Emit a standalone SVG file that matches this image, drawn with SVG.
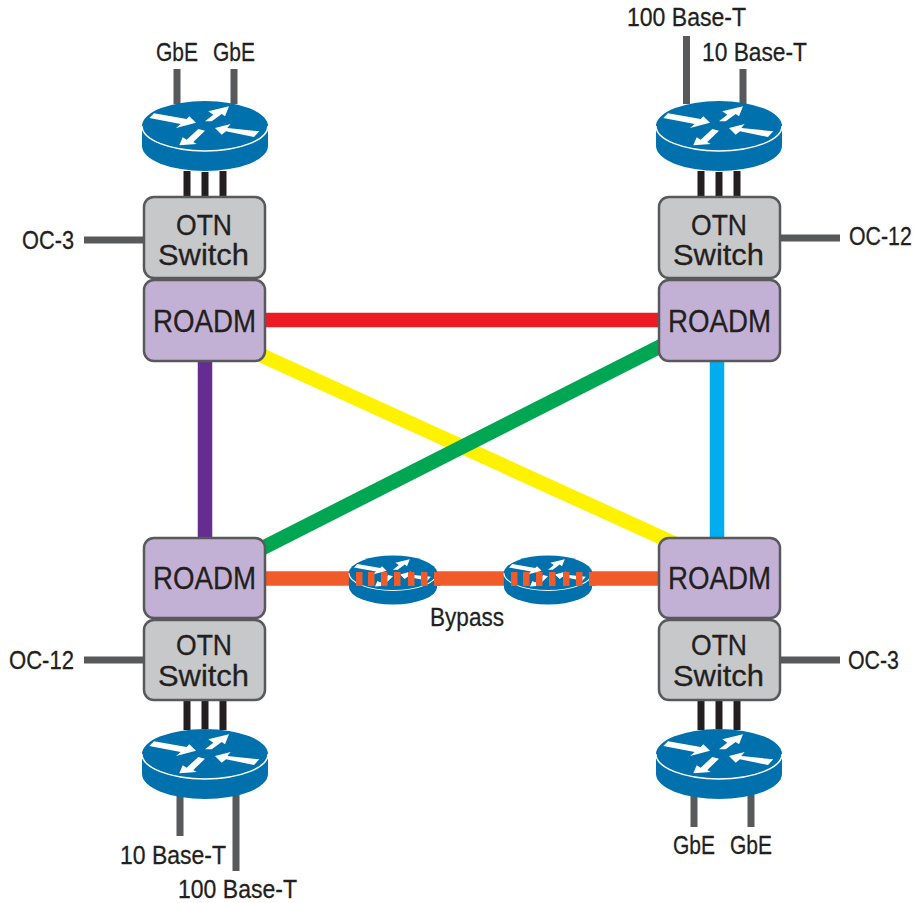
<svg xmlns="http://www.w3.org/2000/svg" xmlns:xlink="http://www.w3.org/1999/xlink" width="915" height="903" viewBox="0 0 915 903">
<style>
text{font-family:"Liberation Sans",Arial,sans-serif;fill:#231f20;stroke:#231f20;stroke-width:.3}
.l{font-size:26px}
.s{font-size:25px}
.b{font-size:30px}
.r{font-size:32px}
.box{stroke:#58595b;stroke-width:2.5}
.otn{fill:#c7c8ca}
.roadm{fill:#c3b1d5}
.g{stroke:#58595b;stroke-width:7;fill:none}
.k{stroke:#231f20;stroke-width:7;fill:none}
.c{fill:none;stroke-width:14.5}
.tick{fill:#f15a29}
</style>
<defs>
<g id="router">
<path d="M-63,0V20A63,25 0 0 0 63,20V0Z" fill="#0071ad"/>
<ellipse cx="0" cy="0" rx="63" ry="25" fill="#0071ad"/>
<path d="M-63,0A63,25 0 0 0 63,0" fill="none" stroke="#fff" stroke-width="1.5"/>
<g fill="#fff">
<polygon points="-55.7,-8 -51,-12.7 -18.3,-7 -15.700,-9.7 -9,-3.3 -29,2 -24.3,-2"/>
<polygon points="24,-19.7 3.3,-14.7 8.3,-11.3 0,-4.7 6.7,-4.7 16.7,-12 20,-9.7"/>
<polygon points="10,2 25.700,-2 22.3,2 54.3,5.3 49,11 21,5.3 16.7,8.7"/>
<polygon points="-25.7,19.3 -22.3,11.3 -18.3,13.7 -6.7,3 0,4.7 -11.7,16 -8.3,18"/>
</g>
</g>
<g id="ticks">
<rect class="tick" x="-37" y="-7" width="6.5" height="14"/>
<rect class="tick" x="-25" y="-7" width="6.5" height="14"/>
<rect class="tick" x="-12" y="-7" width="6.5" height="14"/>
<rect class="tick" x="1" y="-7" width="6.500" height="14"/>
<rect class="tick" x="15" y="-7" width="6.5" height="14"/>
<rect class="tick" x="28" y="-7" width="6.5" height="14"/>
<rect class="tick" x="41" y="-7" width="6.5" height="14"/>
</g>
</defs>
<g id="connectors">
<path class="c" stroke="#ed1c24" d="M255,320H670"/>
<path class="c" stroke="#fff200" d="M240,345.700L690,550.500"/>
<path class="c" stroke="#00a651" d="M680,336.400L240,559.500"/>
<path class="c" stroke="#662d91" d="M205,355V545"/>
<path class="c" stroke="#00aeef" d="M717,355V545"/>
<path class="c" stroke="#f15a29" d="M255,578.500H670"/>
<path class="g" d="M177,69V104M234,69V104M686.500,36V104M743,69V104M180,795V836M236,795V871M694,795V827M751,795V827M84,240H144M780,238H840M84,660H144M780,660H840"/>
<path class="k" d="M187,171V197M205,172V197M223,171V197M701,171V197M719,172V197M737,171V197M187,700V730M205,700V729M223,700V730M701,700V730M719,700V729M737,700V730"/>
</g>
<g id="router-tl"><use xlink:href="#router" href="#router" x="205" y="126"/></g>
<g id="router-tr"><use xlink:href="#router" href="#router" x="719" y="126"/></g>
<g id="router-bl"><use xlink:href="#router" href="#router" x="205" y="754"/></g>
<g id="router-br"><use xlink:href="#router" href="#router" x="719" y="754"/></g>
<g id="bypass-1"><g transform="translate(393,573) scale(.7)"><use xlink:href="#router" href="#router"/></g><use xlink:href="#ticks" href="#ticks" x="393" y="579"/></g>
<g id="bypass-2"><g transform="translate(548,573) scale(.7)"><use xlink:href="#router" href="#router"/></g><use xlink:href="#ticks" href="#ticks" x="548" y="579"/></g>
<g id="otn-tl"><rect class="box otn" x="144" y="197" width="121" height="81" rx="10"/><text class="b" x="176" y="235" textLength="56" lengthAdjust="spacingAndGlyphs">OTN</text><text class="b" x="158" y="265" textLength="91" lengthAdjust="spacingAndGlyphs">Switch</text></g>
<g id="roadm-tl"><rect class="box roadm" x="144" y="280" width="121" height="81" rx="10"/><text class="r" x="153" y="332" textLength="103" lengthAdjust="spacingAndGlyphs">ROADM</text></g>
<g id="otn-tr"><rect class="box otn" x="659" y="197" width="121" height="81" rx="10"/><text class="b" x="691" y="235" textLength="56" lengthAdjust="spacingAndGlyphs">OTN</text><text class="b" x="673" y="265" textLength="91" lengthAdjust="spacingAndGlyphs">Switch</text></g>
<g id="roadm-tr"><rect class="box roadm" x="659" y="280" width="121" height="81" rx="10"/><text class="r" x="668" y="332" textLength="103" lengthAdjust="spacingAndGlyphs">ROADM</text></g>
<g id="roadm-bl"><rect class="box roadm" x="144" y="538" width="121" height="80" rx="10"/><text class="r" x="153" y="589" textLength="103" lengthAdjust="spacingAndGlyphs">ROADM</text></g>
<g id="otn-bl"><rect class="box otn" x="144" y="620" width="121" height="80" rx="10"/><text class="b" x="176" y="655" textLength="56" lengthAdjust="spacingAndGlyphs">OTN</text><text class="b" x="158" y="686" textLength="91" lengthAdjust="spacingAndGlyphs">Switch</text></g>
<g id="roadm-br"><rect class="box roadm" x="659" y="538" width="121" height="80" rx="10"/><text class="r" x="668" y="589" textLength="103" lengthAdjust="spacingAndGlyphs">ROADM</text></g>
<g id="otn-br"><rect class="box otn" x="659" y="620" width="121" height="80" rx="10"/><text class="b" x="691" y="655" textLength="56" lengthAdjust="spacingAndGlyphs">OTN</text><text class="b" x="673" y="686" textLength="91" lengthAdjust="spacingAndGlyphs">Switch</text></g>
<g id="labels">
<text class="l" x="156" y="61" textLength="42" lengthAdjust="spacingAndGlyphs">GbE</text>
<text class="l" x="213" y="61" textLength="42" lengthAdjust="spacingAndGlyphs">GbE</text>
<text class="l" x="627" y="26" textLength="119" lengthAdjust="spacingAndGlyphs">100 Base-T</text>
<text class="l" x="702" y="61" textLength="105" lengthAdjust="spacingAndGlyphs">10 Base-T</text>
<text class="l" x="22" y="249" textLength="52" lengthAdjust="spacingAndGlyphs">OC-3</text>
<text class="l" transform="translate(849,245) scale(.82,1)">OC-12</text>
<text class="l" x="9" y="669" textLength="65" lengthAdjust="spacingAndGlyphs">OC-12</text>
<text class="l" x="848" y="669" textLength="51" lengthAdjust="spacingAndGlyphs">OC-3</text>
<text class="l" x="430" y="626" textLength="74" lengthAdjust="spacingAndGlyphs">Bypass</text>
<text class="l" x="120" y="864" textLength="106" lengthAdjust="spacingAndGlyphs">10 Base-T</text>
<text class="s" x="178" y="898" textLength="119" lengthAdjust="spacingAndGlyphs">100 Base-T</text>
<text class="l" x="673" y="854" textLength="42" lengthAdjust="spacingAndGlyphs">GbE</text>
<text class="l" x="730" y="854" textLength="42" lengthAdjust="spacingAndGlyphs">GbE</text>
</g>
</svg>
